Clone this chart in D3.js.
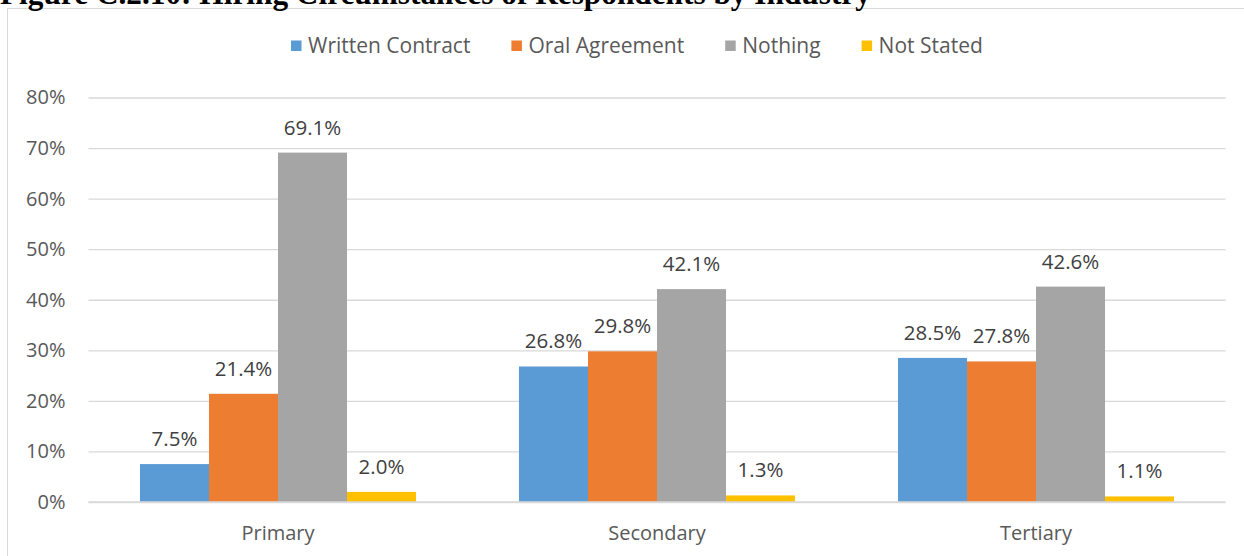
<!DOCTYPE html>
<html>
<head>
<meta charset="utf-8">
<script src="https://cdn.jsdelivr.net/npm/d3@7"></script>
<style>
  html, body { margin: 0; padding: 0; background: #fff; }
  svg { display: block; }
</style>
</head>
<body>
<svg id="chart" width="1244" height="556"></svg>
<script>
const titleText = "Figure C.2.10: Hiring Circumstances of Respondents by Industry";
const categories = ["Primary", "Secondary", "Tertiary"];
const seriesNames = ["Written Contract", "Oral Agreement", "Nothing", "Not Stated"];
const seriesColors = ["#5b9bd5", "#ed7d31", "#a5a5a5", "#ffc000"];
const writtenContract = [7.5, 26.8, 28.5];
const oralAgreement = [21.4, 29.8, 27.8];
const nothing = [69.1, 42.1, 42.6];
const notStated = [2.0, 1.3, 1.1];
const yTicks = [0, 10, 20, 30, 40, 50, 60, 70, 80];

const seriesValues = [writtenContract, oralAgreement, nothing, notStated];
const font = "'Open Sans', sans-serif";
const textColor = "#595959";
const gridColor = "#d9d9d9";

const svg = d3.select("#chart");

// chart frame
svg.append("rect")
  .attr("x", 7.5).attr("y", 8.5)
  .attr("width", 1400).attr("height", 700)
  .attr("fill", "none").attr("stroke", gridColor).attr("stroke-width", 1);

// title (partly above the page edge, as in the reference)
svg.append("text")
  .attr("x", 0).attr("y", 4)
  .attr("font-family", "'Liberation Serif', 'Times New Roman', serif")
  .attr("font-weight", "bold")
  .attr("font-size", 31.3)
  .attr("fill", "#000")
  .text(titleText);

const plotLeft = 88.5, plotRight = 1225.5, plotTop = 97.5, plotBottom = 502;

const y = d3.scaleLinear().domain([0, 80]).range([plotBottom, plotTop]);
const x0 = d3.scaleBand().domain(categories).range([plotLeft, plotRight]).padding(0);
const x1 = d3.scaleBand().domain(seriesNames).range([0, x0.bandwidth()])
  .paddingInner(0).paddingOuter(0.746);

// gridlines + y tick labels
const yAxis = d3.axisLeft(y).tickValues(yTicks)
  .tickSize(-(plotRight - plotLeft)).tickPadding(23)
  .tickFormat(d => d + "%");
const gy = svg.append("g").attr("transform", `translate(${plotLeft},0)`).call(yAxis);
gy.select(".domain").remove();
gy.selectAll(".tick line").attr("stroke", gridColor).attr("stroke-width", 1.3);
gy.selectAll(".tick text")
  .attr("font-family", font).attr("font-size", 20).attr("fill", textColor);

// bars
const groups = svg.append("g").selectAll("g")
  .data(categories).join("g")
  .attr("transform", c => `translate(${x0(c)},0)`);

groups.selectAll("rect")
  .data((c, ci) => seriesNames.map((s, si) => ({ s, si, v: seriesValues[si][ci] })))
  .join("rect")
  .attr("x", d => x1(d.s))
  .attr("width", x1.bandwidth())
  .attr("y", d => y(d.v))
  .attr("height", d => y(0) - y(d.v))
  .attr("fill", d => seriesColors[d.si]);

groups.selectAll("text.val")
  .data((c, ci) => seriesNames.map((s, si) => ({ s, si, v: seriesValues[si][ci] })))
  .join("text")
  .attr("class", "val")
  .attr("x", d => x1(d.s) + x1.bandwidth() / 2)
  .attr("y", d => y(d.v) - 18)
  .attr("text-anchor", "middle")
  .attr("font-family", font).attr("font-size", 20.5).attr("fill", "#404040")
  .text(d => d.v.toFixed(1) + "%");

// baseline
svg.append("line")
  .attr("x1", plotLeft).attr("x2", plotRight)
  .attr("y1", y(0)).attr("y2", y(0))
  .attr("stroke", gridColor).attr("stroke-width", 1.3);

// category labels
const xAxis = d3.axisBottom(x0).tickSize(0).tickPadding(0);
const gx = svg.append("g").attr("transform", `translate(0,${plotBottom})`).call(xAxis);
gx.select(".domain").remove();
gx.selectAll(".tick text")
  .attr("dy", null).attr("y", 38)
  .attr("font-family", font).attr("font-size", 20).attr("fill", textColor);

// legend
const legend = svg.append("g");
let lx = 291;
seriesNames.forEach((name, i) => {
  legend.append("rect")
    .attr("x", lx).attr("y", 40.5)
    .attr("width", 10.5).attr("height", 10.5)
    .attr("fill", seriesColors[i]);
  const t = legend.append("text")
    .attr("x", lx + 17).attr("y", 53)
    .attr("font-family", font).attr("font-size", 21).attr("fill", textColor)
    .text(name);
  const w = t.node().getComputedTextLength();
  lx += 17 + w + 41;
});
</script>
</body>
</html>
